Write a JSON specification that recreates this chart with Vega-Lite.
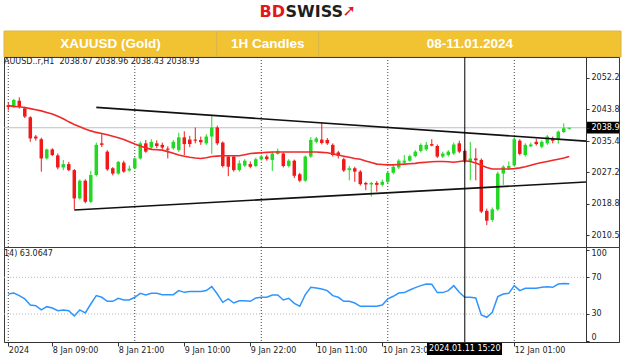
{
"$schema":"https://vega.github.io/schema/vega-lite/v6.json",
"background":"white",
"padding":{"left":3,"top":0,"right":0,"bottom":0},
"spacing":0,
"bounds":"flush",
"config":{"view":{"stroke":null},"font":"DejaVu Sans","axis":{"labelOverlap":false}},
"datasets":{
"bars":[
{"i":0,"o":2044.9,"h":2045.6,"l":2043.5,"c":2044.4,"ma":2044.8,"rsi":51.8},
{"i":1,"o":2044.4,"h":2046.6,"l":2044.2,"c":2046.3,"ma":2044.6,"rsi":52.9},
{"i":2,"o":2046.1,"h":2047.0,"l":2044.0,"c":2044.4,"ma":2044.5,"rsi":50.0},
{"i":3,"o":2044.1,"h":2044.5,"l":2041.5,"c":2041.9,"ma":2044.3,"rsi":46.4},
{"i":4,"o":2041.7,"h":2042.0,"l":2035.2,"c":2036.1,"ma":2044.0,"rsi":39.8},
{"i":5,"o":2036.6,"h":2037.0,"l":2035.5,"c":2036.1,"ma":2043.7,"rsi":39.1},
{"i":6,"o":2035.9,"h":2036.3,"l":2027.3,"c":2030.8,"ma":2043.4,"rsi":34.4},
{"i":7,"o":2030.8,"h":2033.4,"l":2030.5,"c":2033.2,"ma":2043.0,"rsi":38.0},
{"i":8,"o":2033.2,"h":2033.5,"l":2031.4,"c":2031.7,"ma":2042.6,"rsi":36.5},
{"i":9,"o":2031.6,"h":2032.1,"l":2027.9,"c":2028.4,"ma":2042.0,"rsi":33.6},
{"i":10,"o":2028.4,"h":2030.4,"l":2027.7,"c":2029.3,"ma":2041.3,"rsi":34.4},
{"i":11,"o":2029.3,"h":2029.9,"l":2027.4,"c":2027.7,"ma":2040.5,"rsi":33.6},
{"i":12,"o":2027.7,"h":2028.0,"l":2017.3,"c":2020.2,"ma":2039.8,"rsi":27.8},
{"i":13,"o":2020.2,"h":2025.2,"l":2019.9,"c":2024.9,"ma":2039.2,"rsi":34.4},
{"i":14,"o":2024.9,"h":2025.3,"l":2018.9,"c":2019.3,"ma":2038.6,"rsi":31.1},
{"i":15,"o":2019.3,"h":2027.5,"l":2019.0,"c":2026.4,"ma":2038.1,"rsi":40.9},
{"i":16,"o":2026.4,"h":2035.0,"l":2026.0,"c":2034.4,"ma":2037.7,"rsi":50.0},
{"i":17,"o":2034.8,"h":2037.4,"l":2033.8,"c":2034.4,"ma":2037.4,"rsi":48.2},
{"i":18,"o":2032.6,"h":2033.0,"l":2027.5,"c":2027.9,"ma":2037.1,"rsi":43.8},
{"i":19,"o":2028.2,"h":2028.5,"l":2026.3,"c":2026.8,"ma":2036.7,"rsi":43.8},
{"i":20,"o":2026.8,"h":2030.1,"l":2026.5,"c":2029.9,"ma":2036.3,"rsi":47.1},
{"i":21,"o":2029.7,"h":2030.2,"l":2027.0,"c":2027.3,"ma":2035.8,"rsi":45.3},
{"i":22,"o":2027.6,"h":2028.9,"l":2027.3,"c":2028.1,"ma":2035.2,"rsi":45.3},
{"i":23,"o":2028.2,"h":2031.1,"l":2027.9,"c":2030.8,"ma":2034.6,"rsi":48.2},
{"i":24,"o":2030.8,"h":2035.3,"l":2030.5,"c":2034.8,"ma":2034.1,"rsi":52.5},
{"i":25,"o":2034.8,"h":2035.7,"l":2032.3,"c":2032.6,"ma":2033.6,"rsi":50.7},
{"i":26,"o":2033.7,"h":2035.9,"l":2033.3,"c":2035.2,"ma":2033.2,"rsi":52.5},
{"i":27,"o":2034.8,"h":2035.6,"l":2033.5,"c":2034.1,"ma":2033.1,"rsi":52.5},
{"i":28,"o":2034.4,"h":2035.0,"l":2033.2,"c":2033.7,"ma":2033.0,"rsi":51.1},
{"i":29,"o":2033.4,"h":2034.0,"l":2030.8,"c":2033.1,"ma":2032.6,"rsi":51.1},
{"i":30,"o":2033.5,"h":2035.7,"l":2033.1,"c":2035.2,"ma":2032.2,"rsi":51.1},
{"i":31,"o":2033.0,"h":2037.6,"l":2032.5,"c":2036.4,"ma":2031.7,"rsi":55.5},
{"i":32,"o":2036.4,"h":2038.0,"l":2031.7,"c":2034.6,"ma":2031.4,"rsi":53.6},
{"i":33,"o":2035.8,"h":2036.8,"l":2033.8,"c":2034.6,"ma":2031.1,"rsi":54.4},
{"i":34,"o":2035.8,"h":2039.0,"l":2034.8,"c":2035.5,"ma":2030.9,"rsi":54.4},
{"i":35,"o":2035.7,"h":2036.6,"l":2034.4,"c":2035.1,"ma":2030.8,"rsi":54.4},
{"i":36,"o":2034.8,"h":2037.2,"l":2034.4,"c":2036.6,"ma":2031.0,"rsi":55.5},
{"i":37,"o":2036.6,"h":2042.0,"l":2032.0,"c":2039.0,"ma":2031.3,"rsi":59.8},
{"i":38,"o":2039.0,"h":2039.5,"l":2034.3,"c":2034.8,"ma":2031.4,"rsi":51.8},
{"i":39,"o":2035.0,"h":2035.3,"l":2028.4,"c":2028.8,"ma":2031.5,"rsi":42.7},
{"i":40,"o":2031.3,"h":2031.6,"l":2026.1,"c":2028.6,"ma":2031.5,"rsi":46.4},
{"i":41,"o":2031.3,"h":2031.6,"l":2027.3,"c":2027.7,"ma":2031.5,"rsi":42.0},
{"i":42,"o":2027.7,"h":2030.3,"l":2027.3,"c":2029.5,"ma":2031.5,"rsi":44.5},
{"i":43,"o":2028.9,"h":2030.6,"l":2028.5,"c":2030.2,"ma":2031.8,"rsi":44.5},
{"i":44,"o":2029.3,"h":2030.0,"l":2028.2,"c":2028.6,"ma":2032.1,"rsi":43.8},
{"i":45,"o":2028.8,"h":2031.0,"l":2028.5,"c":2030.6,"ma":2032.2,"rsi":47.5},
{"i":46,"o":2030.6,"h":2031.7,"l":2030.2,"c":2031.3,"ma":2032.3,"rsi":48.2},
{"i":47,"o":2031.3,"h":2031.8,"l":2030.2,"c":2030.6,"ma":2032.4,"rsi":48.2},
{"i":48,"o":2030.4,"h":2032.6,"l":2027.5,"c":2032.1,"ma":2032.5,"rsi":50.7},
{"i":49,"o":2032.0,"h":2033.4,"l":2031.8,"c":2032.8,"ma":2032.5,"rsi":50.7},
{"i":50,"o":2032.1,"h":2032.4,"l":2028.4,"c":2028.8,"ma":2032.5,"rsi":45.3},
{"i":51,"o":2028.8,"h":2030.6,"l":2028.4,"c":2030.2,"ma":2032.5,"rsi":47.1},
{"i":52,"o":2030.2,"h":2030.5,"l":2025.6,"c":2026.2,"ma":2032.5,"rsi":41.6},
{"i":53,"o":2026.6,"h":2027.0,"l":2024.5,"c":2024.9,"ma":2032.5,"rsi":38.4},
{"i":54,"o":2024.9,"h":2031.6,"l":2024.6,"c":2031.3,"ma":2032.5,"rsi":51.1},
{"i":55,"o":2031.3,"h":2036.5,"l":2031.0,"c":2035.7,"ma":2032.5,"rsi":59.1},
{"i":56,"o":2035.2,"h":2036.5,"l":2034.8,"c":2036.1,"ma":2032.5,"rsi":58.4},
{"i":57,"o":2035.8,"h":2040.4,"l":2034.5,"c":2034.9,"ma":2032.4,"rsi":57.3},
{"i":58,"o":2035.7,"h":2036.2,"l":2034.4,"c":2034.8,"ma":2032.3,"rsi":55.5},
{"i":59,"o":2034.4,"h":2034.8,"l":2031.3,"c":2031.7,"ma":2032.0,"rsi":50.0},
{"i":60,"o":2032.4,"h":2032.8,"l":2030.8,"c":2031.5,"ma":2031.7,"rsi":48.2},
{"i":61,"o":2030.6,"h":2031.0,"l":2027.2,"c":2027.6,"ma":2031.4,"rsi":43.8},
{"i":62,"o":2027.7,"h":2028.8,"l":2025.0,"c":2028.2,"ma":2031.1,"rsi":43.8},
{"i":63,"o":2028.2,"h":2028.6,"l":2024.6,"c":2027.3,"ma":2030.8,"rsi":42.0},
{"i":64,"o":2027.3,"h":2027.7,"l":2023.6,"c":2024.0,"ma":2030.6,"rsi":38.4},
{"i":65,"o":2024.3,"h":2024.6,"l":2022.4,"c":2023.9,"ma":2030.1,"rsi":38.4},
{"i":66,"o":2023.9,"h":2024.6,"l":2020.7,"c":2024.3,"ma":2029.7,"rsi":38.4},
{"i":67,"o":2024.3,"h":2024.8,"l":2022.0,"c":2023.8,"ma":2029.3,"rsi":38.4},
{"i":68,"o":2023.8,"h":2025.2,"l":2023.4,"c":2024.6,"ma":2029.2,"rsi":39.8},
{"i":69,"o":2024.6,"h":2027.4,"l":2024.2,"c":2027.0,"ma":2029.1,"rsi":46.4},
{"i":70,"o":2027.0,"h":2029.0,"l":2026.6,"c":2028.6,"ma":2029.1,"rsi":49.3},
{"i":71,"o":2028.4,"h":2030.6,"l":2028.0,"c":2030.2,"ma":2029.2,"rsi":52.9},
{"i":72,"o":2029.7,"h":2031.7,"l":2029.3,"c":2030.2,"ma":2029.3,"rsi":53.3},
{"i":73,"o":2030.2,"h":2031.8,"l":2029.9,"c":2031.4,"ma":2029.4,"rsi":56.2},
{"i":74,"o":2031.4,"h":2033.0,"l":2031.1,"c":2032.6,"ma":2029.5,"rsi":58.7},
{"i":75,"o":2032.8,"h":2034.8,"l":2032.4,"c":2034.4,"ma":2029.7,"rsi":60.9},
{"i":76,"o":2033.2,"h":2035.2,"l":2032.8,"c":2034.4,"ma":2029.8,"rsi":62.7},
{"i":77,"o":2034.6,"h":2035.9,"l":2034.0,"c":2034.2,"ma":2029.9,"rsi":62.4},
{"i":78,"o":2034.1,"h":2034.5,"l":2030.9,"c":2031.3,"ma":2030.0,"rsi":53.3},
{"i":79,"o":2031.3,"h":2032.6,"l":2030.9,"c":2032.1,"ma":2030.0,"rsi":53.3},
{"i":80,"o":2031.7,"h":2033.0,"l":2031.3,"c":2032.6,"ma":2029.9,"rsi":55.5},
{"i":81,"o":2032.1,"h":2035.0,"l":2031.7,"c":2034.5,"ma":2029.8,"rsi":60.9},
{"i":82,"o":2034.8,"h":2035.5,"l":2032.2,"c":2032.6,"ma":2030.0,"rsi":53.6},
{"i":83,"o":2032.8,"h":2033.2,"l":2029.5,"c":2029.9,"ma":2030.2,"rsi":48.2},
{"i":84,"o":2029.9,"h":2035.2,"l":2025.0,"c":2030.8,"ma":2030.0,"rsi":48.2},
{"i":85,"o":2030.8,"h":2033.5,"l":2025.0,"c":2030.3,"ma":2029.6,"rsi":47.5},
{"i":86,"o":2030.4,"h":2030.8,"l":2016.3,"c":2016.7,"ma":2029.0,"rsi":28.9},
{"i":87,"o":2016.9,"h":2017.5,"l":2013.1,"c":2014.3,"ma":2028.4,"rsi":26.4},
{"i":88,"o":2014.5,"h":2017.8,"l":2014.0,"c":2017.3,"ma":2028.0,"rsi":31.8},
{"i":89,"o":2017.3,"h":2027.3,"l":2016.9,"c":2026.8,"ma":2028.0,"rsi":48.9},
{"i":90,"o":2026.8,"h":2029.0,"l":2023.8,"c":2028.6,"ma":2028.0,"rsi":51.8},
{"i":91,"o":2028.2,"h":2030.0,"l":2027.8,"c":2028.8,"ma":2028.0,"rsi":52.5},
{"i":92,"o":2029.0,"h":2036.4,"l":2028.6,"c":2035.9,"ma":2028.1,"rsi":60.9},
{"i":93,"o":2035.5,"h":2035.9,"l":2031.6,"c":2032.0,"ma":2028.3,"rsi":55.5},
{"i":94,"o":2031.7,"h":2034.8,"l":2031.3,"c":2034.4,"ma":2028.6,"rsi":58.0},
{"i":95,"o":2034.0,"h":2035.0,"l":2033.8,"c":2034.5,"ma":2029.0,"rsi":58.0},
{"i":96,"o":2035.2,"h":2036.0,"l":2034.2,"c":2034.6,"ma":2029.4,"rsi":58.0},
{"i":97,"o":2033.9,"h":2035.6,"l":2033.5,"c":2035.2,"ma":2029.7,"rsi":59.1},
{"i":98,"o":2034.8,"h":2037.0,"l":2034.4,"c":2036.6,"ma":2030.0,"rsi":59.8},
{"i":99,"o":2036.1,"h":2036.6,"l":2034.8,"c":2035.5,"ma":2030.3,"rsi":59.1},
{"i":100,"o":2035.7,"h":2038.2,"l":2034.7,"c":2037.9,"ma":2030.6,"rsi":62.7},
{"i":101,"o":2037.8,"h":2040.1,"l":2037.5,"c":2038.8,"ma":2030.9,"rsi":63.2},
{"i":102,"o":2038.67,"h":2038.96,"l":2038.43,"c":2038.93,"ma":2031.3,"rsi":63.06}
],
"days":[{"day":"8 Jan","i":0},{"day":"9 Jan","i":23},{"day":"10 Jan","i":46},{"day":"11 Jan","i":69},{"day":"12 Jan","i":92}],
"trend":[{"line":"upper","i":16,"p":2044.34},{"line":"upper","i":105.04,"p":2035.38},{"line":"lower","i":12,"p":2017.13},{"line":"lower","i":105.04,"p":2024.55}]
},
"vconcat":[
{
"width":617,"height":31,
"data":{"values":[{"brand":"BDSWISS"}]},
"layer":[
{"mark":{"type":"text","text":"BD","align":"right","baseline":"middle","dx":-27.5,"dy":-4,"font":"DejaVu Sans","fontWeight":"bold","fontSize":16,"color":"#E3161B"},"encoding":{}},
{"mark":{"type":"text","text":"SWISS","align":"left","baseline":"middle","dx":-27,"dy":-4,"font":"DejaVu Sans","fontWeight":"bold","fontSize":16,"color":"#1E1E1E"},"encoding":{}},
{"mark":{"type":"text","text":"➚","align":"left","baseline":"middle","dx":30,"dy":-5,"font":"DejaVu Sans","fontWeight":"bold","fontSize":16,"color":"#E3161B"},"encoding":{}}
]
},
{
"width":617,"height":26,
"data":{"values":[{"cell":"XAUUSD (Gold)","from":0,"to":2.07},{"cell":"1H Candles","from":2.07,"to":3.06},{"cell":"08-11.01.2024","from":3.06,"to":6}]},
"transform":[{"calculate":"(datum.from + datum.to) / 2","as":"mid"}],
"layer":[
{"mark":{"type":"rect","fill":"#F1C232","stroke":"#D9B54A","strokeWidth":1},
 "encoding":{"x":{"field":"from","type":"quantitative","scale":{"domain":[0,6],"nice":false,"zero":false},"axis":null},"x2":{"field":"to"}}},
{"mark":{"type":"text","color":"white","font":"Liberation Sans","fontWeight":"bold","fontSize":13.5,"baseline":"middle"},
 "encoding":{"x":{"field":"mid","type":"quantitative","axis":null},"text":{"field":"cell"}}}
]
},
{
"width":615,"height":190,
"view":{"stroke":"#3a3a3a","strokeWidth":1},
"layer":[
 {"data":{"name":"days"},"mark":{"type":"rule","color":"#444","strokeDash":[1,2],"strokeWidth":1},
  "encoding":{"x":{"field":"i","type":"quantitative","scale":{"domain":[-0.78,111.04],"nice":false,"zero":false,"padding":0},"axis":null}}},
 {"data":{"values":[{"bid":2038.93}]},"mark":{"type":"rule","color":"#B8C0CC","strokeWidth":1},
  "encoding":{"x":{"datum":-0.78,"type":"quantitative","axis":null},"x2":{"datum":105.04},
   "y":{"field":"bid","type":"quantitative","scale":{"domain":[2007.32,2057.69],"nice":false,"zero":false,"padding":0},
   "axis":{"orient":"right","offset":-33,"values":[2052.2,2043.8,2038.93,2035.4,2027.2,2018.8,2010.5],"tickCount":30,"format":".1f","title":null,"grid":false,"domainColor":"#333","tickColor":"#333","tickSize":3,"labelFont":"DejaVu Sans","labelFontSize":8,"labelColor":{"condition":{"test":"datum.value == 2038.93","value":"white"},"value":"#222"},"labelPadding":2,"labelOverlap":false,"labelBound":false,"zindex":1}}}},
 {"data":{"name":"bars"},"mark":{"type":"rule","strokeWidth":1},
  "encoding":{"x":{"field":"i","type":"quantitative","axis":null},
   "y":{"field":"l","type":"quantitative"},
   "y2":{"field":"h"},
   "color":{"condition":{"test":"datum.c >= datum.o","value":"#22D822"},"value":"#F01818"}}},
 {"data":{"name":"bars"},"mark":{"type":"bar","size":3.5},
  "encoding":{"x":{"field":"i","type":"quantitative","axis":null},"y":{"field":"o","type":"quantitative"},"y2":{"field":"c"},
   "color":{"condition":{"test":"datum.c >= datum.o","value":"#22D822"},"value":"#F01818"}}},
 {"data":{"name":"bars"},"mark":{"type":"line","color":"#F02828","strokeWidth":1.6},
  "encoding":{"x":{"field":"i","type":"quantitative","axis":null},"y":{"field":"ma","type":"quantitative"}}},
 {"data":{"name":"trend"},"mark":{"type":"line","color":"#111111","strokeWidth":1.6},
  "encoding":{"x":{"field":"i","type":"quantitative","axis":null},"y":{"field":"p","type":"quantitative"},"detail":{"field":"line"}}},
 {"data":{"values":[{"t":"2024.01.11 15:20","i":83}]},"mark":{"type":"rule","color":"black","strokeWidth":1},
  "encoding":{"x":{"field":"i","type":"quantitative","axis":null}}},
 {"data":{"values":[{"bid":2038.93}]},"mark":{"type":"rect","color":"black"},
  "encoding":{"x":{"datum":105.22,"type":"quantitative","axis":null},"x2":{"datum":111.1},"y":{"datum":2040.55,"type":"quantitative"},"y2":{"datum":2037.4}}},
 {"data":{"values":[{"label":"AUUSD..r,H1 \u00a02038.67 2038.96 2038.43 2038.93"}]},"mark":{"type":"text","align":"left","baseline":"top","dy":1,"font":"DejaVu Sans","fontSize":8,"color":"#222"},
  "encoding":{"x":{"datum":-0.78,"type":"quantitative","axis":null},"y":{"datum":2057.69,"type":"quantitative"},"text":{"field":"label"}}}
]
},
{
"width":615,"height":95,
"view":{"stroke":"#3a3a3a","strokeWidth":1},
"layer":[
 {"data":{"name":"days"},"mark":{"type":"rule","color":"#444","strokeDash":[1,2],"strokeWidth":1},
  "encoding":{"x":{"field":"i","type":"quantitative","scale":{"domain":[-0.78,111.04],"nice":false,"zero":false,"padding":0},
   "axis":{"orient":"bottom","values":[0,8,20,32,44,56,68,92],"tickCount":30,
     "labelExpr":"datum.value == 0 ? '2024' : datum.value == 8 ? '8 Jan 09:00' : datum.value == 20 ? '8 Jan 21:00' : datum.value == 32 ? '9 Jan 10:00' : datum.value == 44 ? '9 Jan 22:00' : datum.value == 56 ? '10 Jan 11:00' : datum.value == 68 ? '10 Jan 23:00' : '12 Jan 01:00'",
     "labelAlign":"left","labelBaseline":"top","labelFont":"DejaVu Sans","labelFontSize":8,"labelColor":"#222","labelPadding":0,"tickSize":4,"tickColor":"#333","domainColor":"#333","grid":false,"title":null,"labelOverlap":false,"labelFlush":false}}}},
 {"data":{"values":[{"lvl":30},{"lvl":70}]},"mark":{"type":"rule","color":"#B5B5B5","strokeDash":[1,2],"strokeWidth":1},
  "encoding":{"x":{"datum":-0.78,"type":"quantitative"},"x2":{"datum":105.04},
   "y":{"field":"lvl","type":"quantitative","scale":{"domain":[-0.55,103.05],"nice":false,"zero":false,"padding":0},
   "axis":{"orient":"right","offset":-33,"values":[0,30,70,100],"tickCount":30,"title":null,"grid":false,"domainColor":"#333","tickColor":"#333","tickSize":3,"labelFont":"DejaVu Sans","labelFontSize":8,"labelColor":"#222","labelPadding":2,"labelOverlap":false,"labelBound":false,
     "labelBaseline":{"condition":[{"test":"datum.value == 100","value":"top"},{"test":"datum.value == 0","value":"bottom"}],"value":"middle"}}}}},
 {"data":{"name":"bars"},"mark":{"type":"line","color":"#2E95FF","strokeWidth":1.5},
  "encoding":{"x":{"field":"i","type":"quantitative"},"y":{"field":"rsi","type":"quantitative"}}},
 {"data":{"values":[{"i":83}]},"mark":{"type":"rule","color":"black","strokeWidth":1},
  "encoding":{"x":{"field":"i","type":"quantitative"}}},
 {"data":{"values":[{"t":"2024.01.11 15:20"}]},"mark":{"type":"rect","color":"black"},
  "encoding":{"x":{"datum":76.13,"type":"quantitative"},"x2":{"datum":89.77},"y":{"datum":-1.64,"type":"quantitative"},"y2":{"datum":-14.72}}},
 {"data":{"values":[{"t":"2024.01.11 15:20"}]},"mark":{"type":"text","color":"white","font":"DejaVu Sans","fontSize":8,"align":"center","baseline":"middle"},
  "encoding":{"x":{"datum":83,"type":"quantitative"},"y":{"datum":-8.2,"type":"quantitative"},"text":{"field":"t"}}},
 {"data":{"values":[{"label":"14) 63.0647"}]},"mark":{"type":"text","align":"left","baseline":"top","dy":3,"font":"DejaVu Sans","fontSize":8,"color":"#222"},
  "encoding":{"x":{"datum":-0.78,"type":"quantitative"},"y":{"datum":103.05,"type":"quantitative"},"text":{"field":"label"}}}
]
}
]
}
